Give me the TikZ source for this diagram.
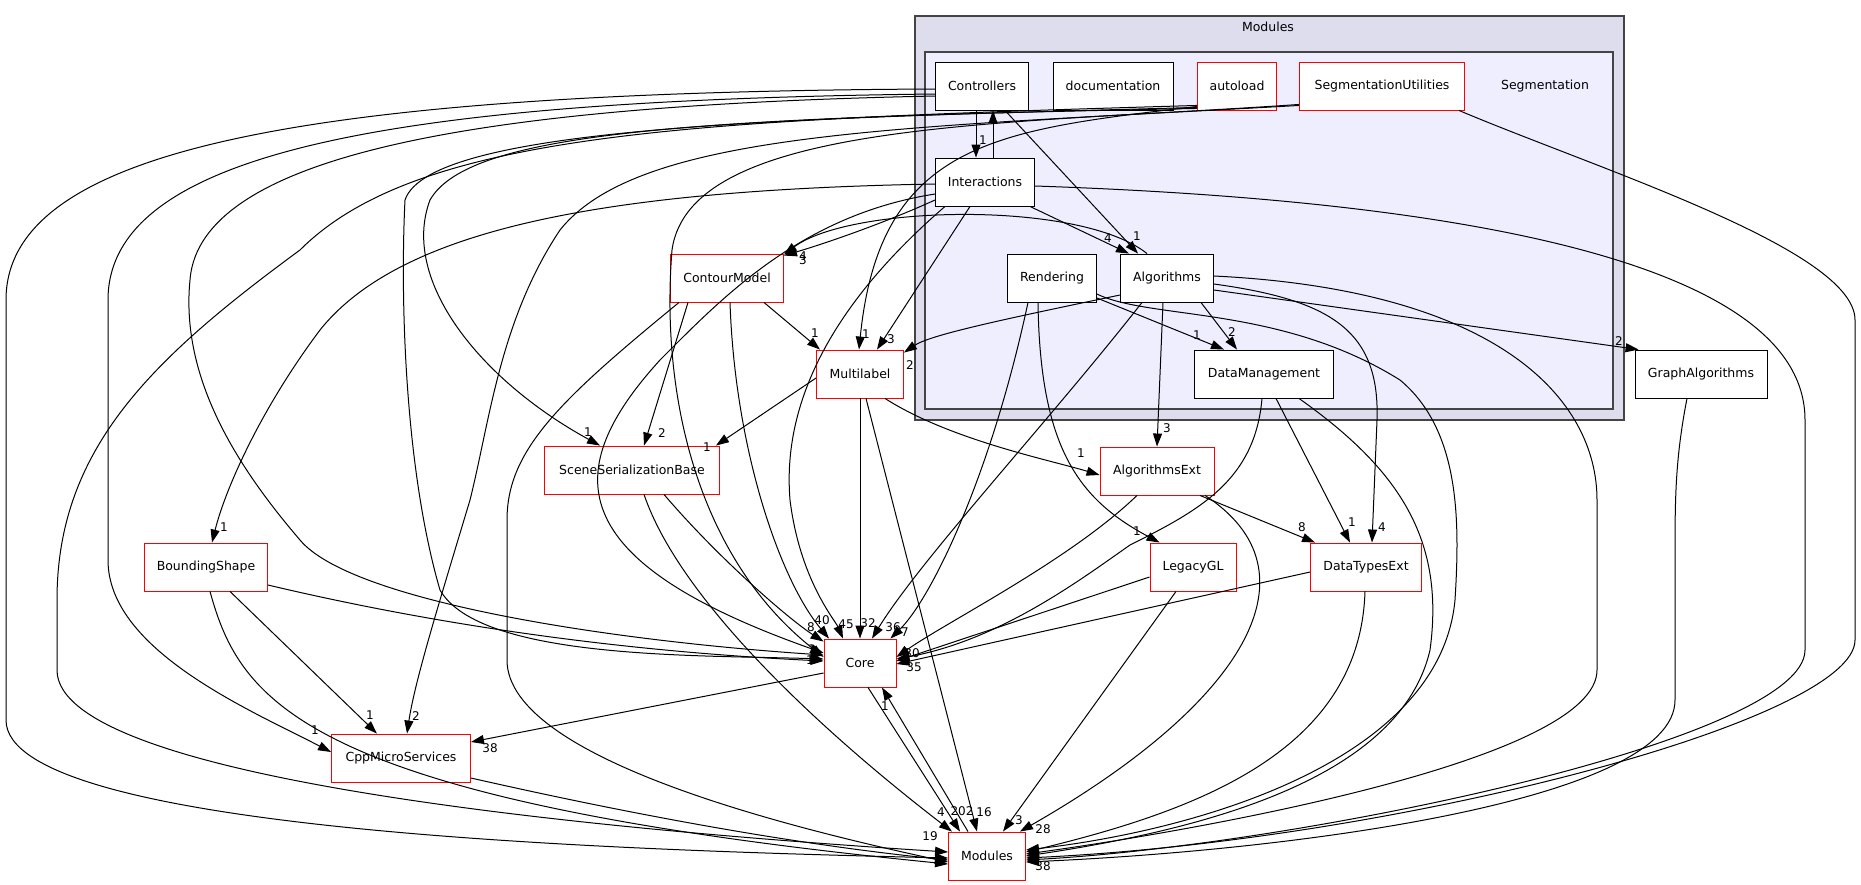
\documentclass[tikz,border=0pt]{standalone}
\usepackage{fontspec}
\setmainfont{DejaVu Sans}
\usetikzlibrary{arrows.meta}
\begin{document}
\begin{tikzpicture}[x=1pt,y=-1pt,
  box/.style={draw=black,fill=white,line width=0.9pt,minimum height=48pt,inner sep=0pt,font=\fontsize{12.5}{14}\selectfont},
  rbox/.style={box,draw=red},
  e/.style={draw=black,line width=1pt,-{Triangle[length=13pt,width=9pt]}},
  lab/.style={font=\fontsize{12}{13}\selectfont,inner sep=0pt},
  clab/.style={font=\fontsize{12.5}{14}\selectfont,inner sep=0pt}]
\useasboundingbox (0,0) rectangle (1861,884);
\fill[white] (0,0) rectangle (1861,884);
% clusters
\draw[fill={rgb,255:red,221;green,221;blue,238},draw={rgb,255:red,68;green,68;blue,68},line width=2pt] (915,16) rectangle (1624,420);
\node[clab] (modlabel) at (1268,27) {Modules};
\draw[fill={rgb,255:red,238;green,238;blue,255},draw={rgb,255:red,68;green,68;blue,68},line width=2pt] (925,52) rectangle (1613,409);
\node[clab] (seglabel) at (1545,86) {Segmentation};
% nodes
\node[box,minimum width=93pt] (ctrl) at (982,86) {Controllers};
\node[box,minimum width=120pt] (doc) at (1113,86) {documentation};
\node[rbox,minimum width=79pt] (autoload) at (1237,86) {autoload};
\node[rbox,minimum width=165pt] (segutil) at (1382,86) {SegmentationUtilities};
\node[box,minimum width=99pt] (inter) at (985,182) {Interactions};
\node[box,minimum width=89pt] (rend) at (1052,278) {Rendering};
\node[box,minimum width=93pt] (alg) at (1167,278) {Algorithms};
\node[box,minimum width=139pt] (dm) at (1264,374) {DataManagement};
\node[box,minimum width=132pt] (graph) at (1701,374) {GraphAlgorithms};
\node[rbox,minimum width=113pt] (contour) at (727,278) {ContourModel};
\node[rbox,minimum width=87pt] (multi) at (860,374) {Multilabel};
\node[rbox,minimum width=175pt] (scene) at (632,470) {SceneSerializationBase};
\node[rbox,minimum width=114pt] (algext) at (1157,471) {AlgorithmsExt};
\node[rbox,minimum width=123pt] (bshape) at (206,567) {BoundingShape};
\node[rbox,minimum width=86pt] (legacy) at (1193,567) {LegacyGL};
\node[rbox,minimum width=111pt] (dtext) at (1366,567) {DataTypesExt};
\node[rbox,minimum width=72pt] (core) at (860,663) {Core};
\node[rbox,minimum width=139pt] (cpp) at (401,758) {CppMicroServices};
\node[rbox,minimum width=77pt] (modules) at (987,856) {Modules};
% Controllers
\draw[e] ([xshift=-6pt]ctrl.south) -- ([xshift=-9pt]inter.north) node[lab,at={(983,140)}]{1};
\draw[e] ([xshift=8pt]inter.north) -- ([xshift=11pt]ctrl.south);
\draw[e] ([xshift=23pt]ctrl.south) -- ([xshift=-29pt]alg.north) node[lab,at={(1137,236)}]{1};
\draw[e] ([yshift=-3pt]ctrl.west) .. controls (300,92) and (6,150) .. (6,300) -- (6,720) .. controls (6,830) and (600,850) .. ([yshift=-2pt]modules.west);
\draw[e] ([yshift=-8pt]ctrl.west) .. controls (400,100) and (108,150) .. (108,300) -- (108,560) .. controls (108,650) and (250,710) .. ([yshift=6pt]cpp.west) node[lab,at={(315,730)}]{1};
\draw[e] ([yshift=-10pt]ctrl.west) .. controls (500,105) and (200,150) .. (190,280) .. controls (180,380) and (240,470) .. (300,540) .. controls (350,600) and (600,640) .. ([yshift=8pt]core.west) node[lab,at={(812,649)}]{1};
% autoload
\draw[e] ([yshift=4pt]autoload.south west) .. controls (1000,130) and (880,140) .. ([xshift=-1pt]multi.north) node[lab,at={(866,334)}]{1};
\draw[e] ([yshift=2pt]autoload.south west) .. controls (700,118) and (470,130) .. (430,200) .. controls (400,280) and (480,380) .. ([xshift=-32pt]scene.north) node[lab,at={(588,432)}]{1};
\draw[e] ([yshift=3pt]autoload.south west) .. controls (800,118) and (430,125) .. (405,200) .. controls (400,300) and (405,470) .. (440,590) .. controls (480,660) and (700,655) .. ([yshift=4pt]core.west);
\draw[e] ([yshift=5pt]autoload.south west) .. controls (700,120) and (420,130) .. (300,250) .. controls (150,360) and (57,450) .. (57,600) -- (57,670) .. controls (57,780) and (600,830) .. ([yshift=4pt]modules.west) node[lab,at={(930,836)}]{19};
% SegmentationUtilities
\draw[e] ([xshift=-6pt]segutil.south east) .. controls (1600,170) and (1855,250) .. (1855,320) -- (1855,640) .. controls (1855,720) and (1400,840) .. ([yshift=-2pt]modules.east) node[lab,at={(1043,866)}]{38};
\draw[e] ([yshift=6pt]segutil.south west) .. controls (1000,125) and (690,120) .. (672,250) .. controls (660,400) and (700,560) .. ([yshift=6pt]core.west) node[lab,at={(813,656)}]{1};
\draw[e] ([yshift=5pt]segutil.south west) .. controls (900,128) and (640,130) .. (560,230) .. controls (500,320) and (490,420) .. (470,500) .. controls (440,600) and (415,680) .. ([xshift=6pt]cpp.north) node[lab,at={(416,716)}]{2};
% Interactions
\draw[e] ([yshift=-2pt]inter.west) .. controls (600,190) and (400,230) .. (320,330) .. controls (260,410) and (225,490) .. ([xshift=6pt]bshape.north) node[lab,at={(224,527)}]{1};
\draw[e] ([yshift=-18pt]inter.west) .. controls (880,225) and (820,245) .. ([yshift=-2pt]contour.north east) node[lab,at={(803,260)}]{3};
\draw[e] ([xshift=-40pt]inter.south) .. controls (860,280) and (780,380) .. (790,500) .. controls (800,580) and (835,620) .. ([xshift=-17pt]core.north) node[lab,at={(846,624)}]{45};
\draw[e] ([xshift=-15pt]inter.south) -- ([xshift=17pt]multi.north) node[lab,at={(891,339)}]{3};
\draw[e] ([xshift=45pt]inter.south) -- ([xshift=-38pt]alg.north) node[lab,at={(1108,238)}]{4};
\draw[e] ([yshift=-4pt]inter.east) .. controls (1450,200) and (1805,260) .. (1805,420) -- (1805,650) .. controls (1805,740) and (1300,845) .. ([yshift=-4pt]modules.east);
\draw[e] ([yshift=-12pt]inter.west) .. controls (800,215) and (720,300) .. (660,360) .. controls (560,470) and (560,560) .. ([yshift=10pt]core.west);
% Algorithms
\draw[e] ([xshift=-20pt]alg.north) .. controls (1080,200) and (850,205) .. ([yshift=-1pt]contour.north east) node[lab,at={(803,256)}]{4};
\draw[e] ([yshift=-17pt]alg.west) .. controls (1000,320) and (930,335) .. ([yshift=-3pt]multi.north east) node[lab,at={(910,365)}]{2};
\draw[e] ([xshift=-13pt]alg.south east) -- ([xshift=-27pt]dm.north) node[lab,at={(1232,332)}]{2};
\draw[e] ([xshift=-4pt]alg.south) -- (algext.north) node[lab,at={(1167,428)}]{3};
\draw[e] ([yshift=-6pt]alg.east) .. controls (1330,300) and (1380,330) .. (1377,420) -- ([xshift=6pt]dtext.north) node[lab,at={(1382,527)}]{4};
\draw[e] ([yshift=-12pt]alg.east) -- ([xshift=4pt]graph.north west) node[lab,at={(1619,341)}]{2};
\draw[e] ([yshift=2pt]alg.east) .. controls (1500,290) and (1597,400) .. (1597,500) -- (1597,670) .. controls (1597,760) and (1200,830) .. ([yshift=2pt]modules.east);
\draw[e] ([xshift=-25pt]alg.south) .. controls (1050,420) and (920,560) .. ([xshift=12pt]core.north) node[lab,at={(893,627)}]{36};
% Rendering
\draw[e] ([yshift=-20pt]rend.east) -- ([xshift=-40pt]dm.north) node[lab,at={(1197,335)}]{1};
\draw[e] ([xshift=-14pt]rend.south) .. controls (1040,450) and (1080,500) .. ([xshift=10pt]legacy.north west) node[lab,at={(1137,531)}]{1};
\draw[e] ([xshift=-24pt]rend.south) .. controls (990,480) and (930,600) .. ([xshift=-6pt]core.north east) node[lab,at={(905,632)}]{7};
\draw[e] ([yshift=-16pt]rend.east) .. controls (1150,320) and (1280,305) .. (1400,380) .. controls (1460,430) and (1460,520) .. (1455,600) .. controls (1440,760) and (1200,830) .. ([yshift=6pt]modules.east);
% ContourModel
\draw[e] ([xshift=37pt]contour.south) -- ([xshift=-40pt]multi.north) node[lab,at={(815,333)}]{1};
\draw[e] ([xshift=-39pt]contour.south) -- ([xshift=12pt]scene.north) node[lab,at={(662,433)}]{2};
\draw[e] ([xshift=3pt]contour.south) .. controls (735,450) and (780,580) .. ([xshift=-31pt]core.north) node[lab,at={(822,620)}]{40};
\draw[e] ([xshift=-48pt]contour.south) .. controls (560,400) and (507,450) .. (507,520) -- (507,660) .. controls (507,760) and (800,830) .. ([yshift=-6pt]modules.west);
% Multilabel
\draw[e] ([yshift=-4pt]multi.west) -- ([xshift=-4pt]scene.north east) node[lab,at={(707,447)}]{1};
\draw[e] (multi.south) -- (core.north) node[lab,at={(868,623)}]{32};
\draw[e] ([xshift=6pt]multi.south) -- ([xshift=-10pt]modules.north) node[lab,at={(984,812)}]{16};
\draw[e] ([xshift=25pt]multi.south) .. controls (950,440) and (1050,460) .. ([yshift=-4pt]algext.west) node[lab,at={(1081,453)}]{1};
% SceneSerializationBase
\draw[e] ([xshift=32pt]scene.south) .. controls (720,560) and (790,620) .. ([yshift=-3pt]core.north west) node[lab,at={(811,627)}]{8};
\draw[e] ([xshift=12pt]scene.south) .. controls (680,600) and (820,730) .. ([xshift=-35pt]modules.north) node[lab,at={(941,812)}]{4};
% AlgorithmsExt
\draw[e] ([xshift=-20pt]algext.south) .. controls (1070,560) and (950,620) .. ([yshift=6pt]core.east) node[lab,at={(912,653)}]{30};
\draw[e] ([xshift=43pt]algext.south) -- ([xshift=5pt]dtext.north west) node[lab,at={(1302,527)}]{8};
\draw[e] ([xshift=48pt]algext.south) .. controls (1320,570) and (1250,700) .. ([xshift=-6pt]modules.north east) node[lab,at={(1043,829)}]{28};
% LegacyGL
\draw[e] ([yshift=-10pt]legacy.west) -- ([yshift=2pt]core.east);
\draw[e] ([xshift=-17pt]legacy.south) -- ([xshift=16pt]modules.north) node[lab,at={(1019,820)}]{3};
% DataTypesExt
\draw[e] ([yshift=-5pt]dtext.west) -- ([yshift=-1pt]core.east) node[lab,at={(914,667)}]{35};
\draw[e] ([xshift=-1pt]dtext.south) .. controls (1360,750) and (1200,810) .. ([yshift=4pt]modules.east);
% DataManagement
\draw[e] ([xshift=12pt]dm.south) -- ([xshift=-16pt]dtext.north) node[lab,at={(1352,522)}]{1};
\draw[e] ([xshift=-2pt]dm.south) .. controls (1255,480) and (1200,510) .. (1130,545) .. controls (1080,580) and (1000,640) .. ([yshift=4pt]core.east);
\draw[e] ([xshift=35pt]dm.south) .. controls (1400,470) and (1445,540) .. (1430,650) .. controls (1400,780) and (1200,830) .. (modules.east);
% GraphAlgorithms
\draw[e] ([xshift=-14pt]graph.south) .. controls (1675,460) and (1675,500) .. (1675,560) -- (1675,700) .. controls (1675,800) and (1300,850) .. ([yshift=-6pt]modules.east);
% Core
\draw[e] ([yshift=-10pt]core.west) -- ([yshift=16pt]cpp.east) node[lab,at={(490,748)}]{38};
\draw[e] ([xshift=8pt]core.south) -- ([xshift=-27pt]modules.north) node[lab,at={(962,811)}]{202};
\draw[e] ([xshift=-19pt]modules.north) -- ([xshift=22pt]core.south) node[lab,at={(885,706)}]{1};
% BoundingShape
\draw[e] ([yshift=-18pt]bshape.east) .. controls (500,640) and (700,655) .. ([yshift=2pt]core.west) node[lab,at={(810,660)}]{1};
\draw[e] ([xshift=24pt]bshape.south) -- ([xshift=-24pt]cpp.north) node[lab,at={(370,715)}]{1};
\draw[e] ([xshift=4pt]bshape.south) .. controls (240,700) and (300,800) .. ([yshift=-8pt]modules.west);
% CppMicroServices
\draw[e] ([yshift=-20pt]cpp.east) .. controls (700,830) and (850,850) .. ([yshift=-4pt]modules.west);
\end{tikzpicture}
\end{document}
